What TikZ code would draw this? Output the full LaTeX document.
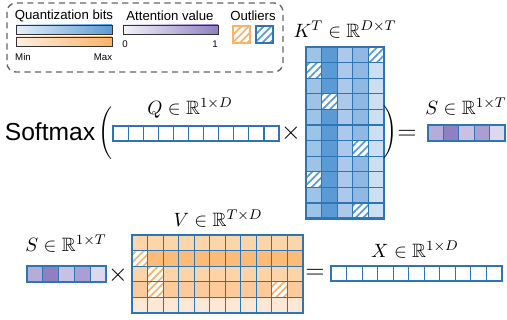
\documentclass[tikz,border=0pt]{standalone}
\usepackage{amsmath,amssymb}
\usepackage[no-math]{fontspec}
\setmainfont{Liberation Sans}
\usepackage{tikz}
\usetikzlibrary{patterns.meta}
\definecolor{bordo}{HTML}{2E75B6}
\definecolor{blu}{HTML}{5B9BD5}
\definecolor{arancio}{HTML}{F8B26A}
\definecolor{viola}{HTML}{8F80C2}
\definecolor{kA}{HTML}{9DC3E6}
\definecolor{kB}{HTML}{5B9BD5}
\definecolor{kC}{HTML}{ACC9EA}
\definecolor{kD}{HTML}{8FB8E2}
\definecolor{kE}{HTML}{CDE0F3}
\definecolor{vA}{HTML}{FDD5AA}
\definecolor{vB}{HTML}{FDBB78}
\definecolor{vC}{HTML}{FDD3A8}
\definecolor{vD}{HTML}{FCCB99}
\definecolor{vE}{HTML}{FDE8D5}
\definecolor{sA}{HTML}{B6ACD8}
\definecolor{sB}{HTML}{8F80C2}
\definecolor{sC}{HTML}{C8C1E3}
\definecolor{sD}{HTML}{AA9ED3}
\definecolor{sE}{HTML}{DCD8EE}
\newcommand{\spazio}[2]{$#1 \in \mathbb{R}^{#2}$}
\newcommand{\tonda}[1]{$\left#1\vrule height 15pt depth 13pt width 0pt\right.$}
\tikzset{
  griglia/.style={draw=bordo,line width=0.6pt},
  cornice/.style={draw=bordo,line width=1.4pt},
  etichetta/.style={font=\fontsize{11}{13}\selectfont},
  legenda/.style={font=\fontsize{7.5}{9}\selectfont,inner sep=0pt},
  piccolo/.style={font=\fontsize{5.5}{6}\selectfont,inner sep=0pt},
  operatore/.style={font=\fontsize{14}{16}\selectfont,inner sep=0pt},
  tratteggio/.style={preaction={fill=white},pattern={Lines[angle=45,distance=3pt,line width=1pt]}}
}

\begin{document}
\begin{tikzpicture}[x=0.2mm,y=-0.2mm]
  \useasboundingbox (0,0) rectangle (507,320);
  % legenda
  \draw[black!60,dash pattern=on 3.5pt off 2.5pt,rounded corners=5pt,line width=0.8pt] (7,3) rectangle (283,72);
  \node[legenda] (qbits) at (64,16) {Quantization bits};
  \shade[left color=blu!15,right color=blu] (16,25) rectangle (112,34);
  \draw[black!80,thin] (16,25) rectangle (112,34);
  \shade[left color=arancio!20,right color=arancio] (16,37) rectangle (112,46);
  \draw[black!80,thin] (16,37) rectangle (112,46);
  \node[piccolo] (vmin) at (23,57) {Min};
  \node[piccolo] (vmax) at (103,57) {Max};
  \node[legenda] (attn) at (170,16) {Attention value};
  \shade[left color=viola!10,right color=viola] (123,25) rectangle (218,34);
  \draw[black!80,thin] (123,25) rectangle (218,34);
  \node[piccolo] (zero) at (125,44) {0};
  \node[piccolo] (uno) at (215,44) {1};
  \node[legenda] (outl) at (253,16) {Outliers};
  \draw[arancio,tratteggio,pattern color=arancio,line width=0.8pt] (233,26) rectangle (250,43);
  \draw[bordo,tratteggio,pattern color=blu,line width=0.8pt] (256,26) rectangle (273,43);

  % prima riga
  \node[font=\fontsize{14}{16}\selectfont] (soft) at (50,132) {Softmax};
  \node[inner sep=0pt] (apri) at (107,134) {\tonda{(}};
  \node[etichetta] (lq) at (190,108) {\spazio{Q}{1\times D}};
  \fill[white] (113,126) rectangle ++(166.1,15);
  \foreach \i in {1,...,10} \draw[griglia] (113+15.1*\i,126) -- ++(0,15);
  \draw[cornice] (113,126) rectangle ++(166.1,15);
  \node[operatore] (per1) at (291,133) {$\times$};

  \node[etichetta] (lk) at (345,30) {\spazio{K^T}{D\times T}};
  \foreach \c/\col in {0/kA,1/kB,2/kC,3/kD,4/kE}
    \fill[\col] (306+15.6*\c,47) rectangle ++(15.6,171.6);
  \foreach \c/\r in {4/0,0/1,1/3,3/6,0/8,3/10}
    \path[tratteggio,pattern color=blu] (306+15.6*\c,47+15.6*\r) rectangle ++(15.6,15.6);
  \foreach \c in {1,...,4} \draw[griglia] (306+15.6*\c,47) -- ++(0,171.6);
  \foreach \r in {1,...,10} \draw[griglia] (306,47+15.6*\r) -- ++(78,0);
  \draw[cornice] (306,47) rectangle ++(78,171.6);

  \node[inner sep=0pt] (chiudi) at (392,133) {\tonda{)}};
  \node[operatore] (ug1) at (407,135) {$=$};
  \node[etichetta] (ls1) at (466,107) {\spazio{S}{1\times T}};
  \foreach \c/\col in {0/sA,1/sB,2/sC,3/sD,4/sE}
    \fill[\col] (428+15.4*\c,125) rectangle ++(15.4,16);
  \foreach \c in {1,...,4} \draw[griglia] (428+15.4*\c,125) -- ++(0,16);
  \draw[cornice] (428,125) rectangle ++(77,16);

  % seconda riga
  \node[etichetta] (ls2) at (66,244) {\spazio{S}{1\times T}};
  \foreach \c/\col in {0/sA,1/sB,2/sC,3/sD,4/sE}
    \fill[\col] (27+15.8*\c,266) rectangle ++(15.8,16);
  \foreach \c in {1,...,4} \draw[griglia] (27+15.8*\c,266) -- ++(0,16);
  \draw[cornice] (27,266) rectangle ++(79,16);
  \node[operatore] (per2) at (118,275) {$\times$};

  \node[etichetta] (lv) at (218,219) {\spazio{V}{T\times D}};
  \foreach \r/\col in {0/vA,1/vB,2/vC,3/vD,4/vE}
    \fill[\col] (132,235+15.6*\r) rectangle ++(171,15.6);
  \foreach \c/\r in {0/1,1/2,1/3,9/3}
    \path[tratteggio,pattern color=arancio] (132+15.545*\c,235+15.6*\r) rectangle ++(15.545,15.6);
  \foreach \c in {1,...,10} \draw[griglia] (132+15.545*\c,235) -- ++(0,78);
  \foreach \r in {1,...,4} \draw[griglia] (132,235+15.6*\r) -- ++(171,0);
  \draw[cornice] (132,235) rectangle ++(171,78);

  \node[operatore] (ug2) at (315,274) {$=$};
  \node[etichetta] (lx) at (415,250) {\spazio{X}{1\times D}};
  \fill[white] (331,266) rectangle ++(171,15);
  \foreach \i in {1,...,10} \draw[griglia] (331+15.545*\i,266) -- ++(0,15);
  \draw[cornice] (331,266) rectangle ++(171,15);
\end{tikzpicture}
\end{document}
